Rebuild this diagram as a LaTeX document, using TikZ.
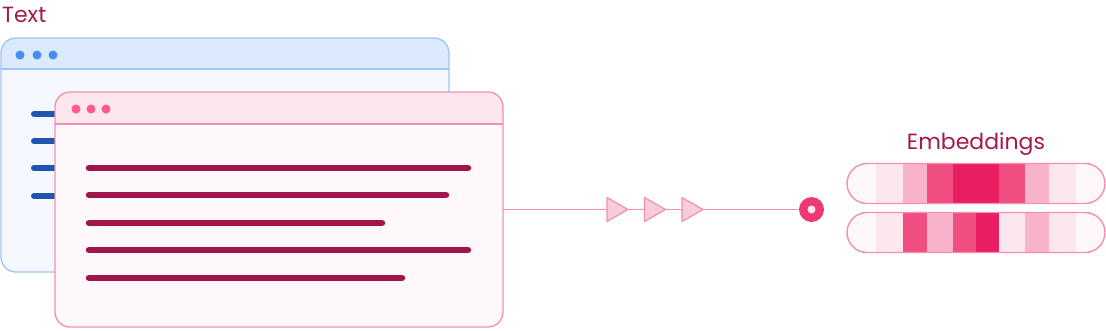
\documentclass[tikz,border=0pt]{standalone}
\usepackage{fontspec}
\setmainfont{Poppins}
\definecolor{bluebody}{HTML}{F5F9FF}
\definecolor{bluehead}{HTML}{DCEAFD}
\definecolor{blueborder}{HTML}{9EC5F7}
\definecolor{bluedot}{HTML}{4A8CF7}
\definecolor{blueline}{HTML}{1E56B0}
\definecolor{pinkbody}{HTML}{FFF8FA}
\definecolor{pinkhead}{HTML}{FDE7EF}
\definecolor{pinkborder}{HTML}{F48FB1}
\definecolor{pinkdot}{HTML}{FF5A8A}
\definecolor{redline}{HTML}{A0154A}
\definecolor{titlecol}{HTML}{A3184F}
\definecolor{trifill}{HTML}{F9CCDC}
\definecolor{eA}{HTML}{FFF8FA}
\definecolor{eB}{HTML}{FDE7EF}
\definecolor{eC}{HTML}{F8B3CA}
\definecolor{eD}{HTML}{F04E80}
\definecolor{eE}{HTML}{EA1E63}
\definecolor{dotcol}{HTML}{EE3A74}
\begin{document}
\begin{tikzpicture}[x=1pt,y=-1pt,
  win/.style={rectangle, rounded corners=15pt, inner sep=0pt, outer sep=0pt},
  title/.style={font=\fontsize{22}{26}\selectfont, text=titlecol, inner sep=0pt, anchor=base},
  bline/.style={line width=6pt, line cap=round, blueline},
  rline/.style={line width=6.5pt, line cap=round, redline},
  conn/.style={pinkborder, line width=1.4pt},
  tri/.style={draw=pinkborder, fill=trifill, line width=1.2pt, line join=round},
  pill/.style={rectangle, rounded corners=20pt, inner sep=0pt, outer sep=0pt, minimum width=258pt, minimum height=40pt}
]
\useasboundingbox (0,0) rectangle (1106,330);

% titles
\node[title, anchor=base west] (ttext) at (2,22) {Text};
\node[title] (temb) at (976,149) {Embeddings};

% back window
\node[win, fill=bluebody, minimum width=448pt, minimum height=234pt] (back) at (225,155) {};
\begin{scope}
\clip[rounded corners=15pt] (back.south west) rectangle (back.north east);
\fill[bluehead] (back.north west) rectangle ([yshift=-31pt]back.north east);
\end{scope}
\draw[blueborder, line width=1.3pt] ([yshift=-31pt]back.north west) -- ([yshift=-31pt]back.north east);
\draw[blueborder, line width=1.3pt, rounded corners=15pt] (back.south west) rectangle (back.north east);
\foreach \x in {20,37,53}
  \fill[bluedot] (\x,55) circle (4.5pt);
\foreach \y in {114,141,168,196}
  \draw[bline] (34,\y) -- (60,\y);

% front window
\node[win, fill=pinkbody, minimum width=448pt, minimum height=235pt] (front) at (279,209.5) {};
\begin{scope}
\clip[rounded corners=15pt] (front.south west) rectangle (front.north east);
\fill[pinkhead] (front.north west) rectangle ([yshift=-32pt]front.north east);
\end{scope}
\draw[pinkborder, line width=1.3pt] ([yshift=-32pt]front.north west) -- ([yshift=-32pt]front.north east);
\draw[pinkborder, line width=1.3pt, rounded corners=15pt] (front.south west) rectangle (front.north east);
\foreach \x in {76,91,106}
  \fill[pinkdot] (\x,109) circle (4.5pt);
\foreach \y/\e in {168/468,195/446,223/382,250/468,278/402}
  \draw[rline] (89,\y) -- (\e,\y);

% output dot
\node[circle, fill=dotcol, minimum size=25pt, inner sep=0pt, outer sep=0pt] (dot) at (811.5,209.5) {};
\fill[pinkhead] (dot.center) circle (4pt);

% connector
\draw[conn] (front.east) -- (dot.west);
\foreach \t/\x in {t1/607,t2/644.5,t3/682}{
  \coordinate (\t) at (\x,209.5);
  \draw[tri] ([yshift=-12pt]\t) -- ([yshift=12pt]\t) -- ([xshift=21pt]\t) -- cycle;
}

% embedding bars
\node[pill] (bar1) at (976,183.5) {};
\node[pill] (bar2) at (976,232.5) {};
\begin{scope}
\clip[rounded corners=20pt] (bar1.south west) rectangle (bar1.north east);
\foreach \a/\b/\c in {847/876/eA,876/903/eB,903/927/eC,927/953/eD,953/999/eE,999/1025/eD,1025/1049/eC,1049/1076/eB,1076/1106/eA}
  \fill[\c] (\a,163) rectangle (\b,204);
\end{scope}
\begin{scope}
\clip[rounded corners=20pt] (bar2.south west) rectangle (bar2.north east);
\foreach \a/\b/\c in {847/876/eA,876/903/eB,903/927/eD,927/953/eC,953/976/eD,976/999/eE,999/1025/eB,1025/1049/eC,1049/1076/eB,1076/1106/eA}
  \fill[\c] (\a,212) rectangle (\b,253);
\end{scope}
\draw[pinkborder, line width=1.4pt, rounded corners=20pt] (bar1.south west) rectangle (bar1.north east);
\draw[pinkborder, line width=1.4pt, rounded corners=20pt] (bar2.south west) rectangle (bar2.north east);
\end{tikzpicture}
\end{document}
